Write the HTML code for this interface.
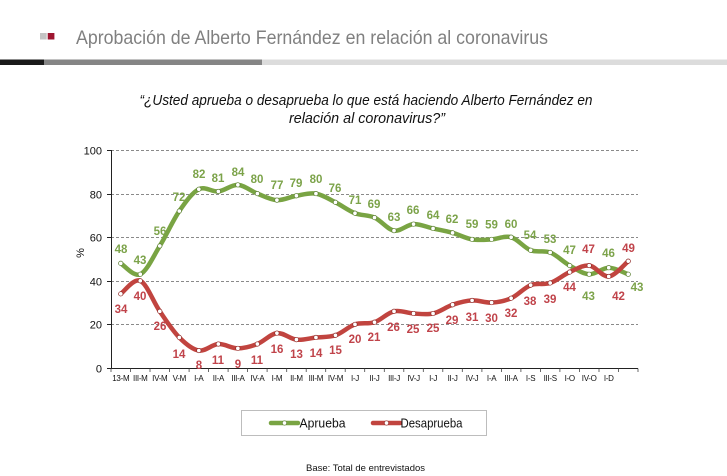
<!DOCTYPE html>
<html>
<head>
<meta charset="utf-8">
<style>
html,body{margin:0;padding:0;background:#fff;}
body{width:727px;height:476px;overflow:hidden;}
svg{display:block;font-family:"Liberation Sans",sans-serif;}
</style>
</head>
<body>
<svg width="727" height="476" viewBox="0 0 727 476" xmlns="http://www.w3.org/2000/svg">
<!-- header -->
<rect x="40" y="33" width="6.7" height="6.5" fill="#c4c4c4"/>
<rect x="47.7" y="33" width="6.7" height="6.5" fill="#9e1530"/>
<text x="76" y="44" font-size="19.5" fill="#808080" textLength="472" lengthAdjust="spacingAndGlyphs">Aprobación de Alberto Fernández en relación al coronavirus</text>
<rect x="0" y="59.5" width="44" height="5.5" fill="#1a1a1a"/>
<rect x="44" y="59.5" width="218" height="5.5" fill="#858585"/>
<rect x="262" y="59.5" width="465" height="5.5" fill="#dcdcdc"/>

<!-- question -->
<text x="366" y="105" font-size="14.5" font-style="italic" fill="#111" text-anchor="middle" textLength="453" lengthAdjust="spacingAndGlyphs">“¿Usted aprueba o desaprueba lo que está haciendo Alberto Fernández en</text>
<text x="367" y="123" font-size="14.5" font-style="italic" fill="#111" text-anchor="middle" textLength="156" lengthAdjust="spacingAndGlyphs">relación al coronavirus?”</text>

<!-- grid -->
<g stroke="#8a8a8a" stroke-width="1" stroke-dasharray="3,2">
<line x1="111" y1="150.5" x2="638" y2="150.5"/>
<line x1="111" y1="194.5" x2="638" y2="194.5"/>
<line x1="111" y1="237.5" x2="638" y2="237.5"/>
<line x1="111" y1="281.5" x2="638" y2="281.5"/>
<line x1="111" y1="324.5" x2="638" y2="324.5"/>
</g>
<!-- axes -->
<g stroke="#222" stroke-width="1">
<line x1="111.5" y1="150" x2="111.5" y2="368.5"/>
<line x1="111" y1="368.5" x2="638" y2="368.5"/>
<line x1="107" y1="150.5" x2="111" y2="150.5"/>
<line x1="107" y1="194.5" x2="111" y2="194.5"/>
<line x1="107" y1="237.5" x2="111" y2="237.5"/>
<line x1="107" y1="281.5" x2="111" y2="281.5"/>
<line x1="107" y1="324.5" x2="111" y2="324.5"/>
<line x1="107" y1="368.5" x2="111" y2="368.5"/>
</g>
<g id="xticks" stroke="#444" stroke-width="0.8"></g>

<!-- y labels -->
<g font-size="11" fill="#111" text-anchor="end">
<text x="102" y="154.5">100</text>
<text x="102" y="198.5">80</text>
<text x="102" y="241.5">60</text>
<text x="102" y="285.5">40</text>
<text x="102" y="328.5">20</text>
<text x="102" y="372.5">0</text>
</g>
<text transform="translate(84,253) rotate(-90)" font-size="11" fill="#111" text-anchor="middle">%</text>

<!-- x labels -->
<g font-size="8" fill="#111" text-anchor="middle" letter-spacing="-0.3">
<text x="120.8" y="381">13-M</text>
<text x="140.3" y="381">III-M</text>
<text x="159.8" y="381">IV-M</text>
<text x="179.3" y="381">V-M</text>
<text x="198.8" y="381">I-A</text>
<text x="218.4" y="381">II-A</text>
<text x="237.9" y="381">III-A</text>
<text x="257.4" y="381">IV-A</text>
<text x="276.9" y="381">I-M</text>
<text x="296.4" y="381">II-M</text>
<text x="315.9" y="381">III-M</text>
<text x="335.5" y="381">IV-M</text>
<text x="355.0" y="381">I-J</text>
<text x="374.5" y="381">II-J</text>
<text x="394.0" y="381">III-J</text>
<text x="413.5" y="381">IV-J</text>
<text x="433.1" y="381">I-J</text>
<text x="452.6" y="381">II-J</text>
<text x="472.1" y="381">IV-J</text>
<text x="491.6" y="381">I-A</text>
<text x="511.1" y="381">III-A</text>
<text x="530.6" y="381">I-S</text>
<text x="550.2" y="381">III-S</text>
<text x="569.7" y="381">I-O</text>
<text x="589.2" y="381">IV-O</text>
<text x="608.7" y="381">I-D</text>
</g>

<!-- series -->
<path id="pg" fill="none" stroke="#79a443" stroke-width="4.5" stroke-linejoin="round" stroke-linecap="round"/>
<path id="pr" fill="none" stroke="#c1443f" stroke-width="4.5" stroke-linejoin="round" stroke-linecap="round"/>
<g id="mk"></g>

<!-- green labels -->
<g font-size="11.5" font-weight="bold" fill="#7ca34a" text-anchor="middle">
<text x="121" y="253">48</text>
<text x="140" y="264">43</text>
<text x="160" y="235">56</text>
<text x="179" y="201">72</text>
<text x="199" y="178">82</text>
<text x="218" y="182">81</text>
<text x="238" y="176">84</text>
<text x="257" y="183">80</text>
<text x="277" y="189">77</text>
<text x="296" y="187">79</text>
<text x="316" y="183">80</text>
<text x="335" y="192">76</text>
<text x="355" y="204">71</text>
<text x="374" y="208">69</text>
<text x="394" y="221">63</text>
<text x="413" y="214">66</text>
<text x="433" y="219">64</text>
<text x="452" y="223">62</text>
<text x="472" y="228">59</text>
<text x="491.5" y="228.5">59</text>
<text x="511" y="228">60</text>
<text x="530" y="239">54</text>
<text x="550" y="243">53</text>
<text x="569.5" y="254">47</text>
<text x="588.5" y="300">43</text>
<text x="608.5" y="257">46</text>
<text x="637" y="291">43</text>
</g>
<!-- red labels -->
<g font-size="11.5" font-weight="bold" fill="#c0434a" text-anchor="middle">
<text x="121" y="313">34</text>
<text x="140" y="300">40</text>
<text x="160" y="330">26</text>
<text x="179" y="358">14</text>
<text x="199" y="369">8</text>
<text x="218" y="364">11</text>
<text x="238" y="368">9</text>
<text x="257" y="364">11</text>
<text x="277" y="353">16</text>
<text x="296.5" y="358">13</text>
<text x="316" y="357">14</text>
<text x="335.5" y="354">15</text>
<text x="355" y="343">20</text>
<text x="374" y="341">21</text>
<text x="393.5" y="331">26</text>
<text x="413" y="333">25</text>
<text x="433" y="332">25</text>
<text x="452" y="324">29</text>
<text x="472" y="321">31</text>
<text x="491.5" y="322">30</text>
<text x="511" y="317">32</text>
<text x="530" y="305">38</text>
<text x="550" y="303">39</text>
<text x="569.5" y="291">44</text>
<text x="588.5" y="253">47</text>
<text x="618.5" y="300">42</text>
<text x="628.5" y="252">49</text>
</g>

<!-- legend -->
<rect x="241.5" y="410.5" width="245" height="25" fill="#fff" stroke="#bdbdbd" stroke-width="1"/>
<line x1="271" y1="423" x2="298" y2="423" stroke="#79a443" stroke-width="4.5" stroke-linecap="round"/>
<circle cx="284.5" cy="423" r="2.2" fill="#fff" stroke="#5a7d30" stroke-width="0.7"/>
<text x="299.5" y="427.5" font-size="12.5" fill="#111" textLength="46" lengthAdjust="spacingAndGlyphs">Aprueba</text>
<line x1="373" y1="423" x2="400" y2="423" stroke="#c1443f" stroke-width="4.5" stroke-linecap="round"/>
<circle cx="386.5" cy="423" r="2.2" fill="#fff" stroke="#8e2a27" stroke-width="0.7"/>
<text x="400.5" y="427.5" font-size="12.5" fill="#111" textLength="62" lengthAdjust="spacingAndGlyphs">Desaprueba</text>

<text x="365.5" y="471" font-size="9.5" fill="#111" text-anchor="middle" textLength="119" lengthAdjust="spacingAndGlyphs">Base: Total de entrevistados</text>
</svg>
<script>
(function(){
var g=[48,43,56,72,82,81,84,80,77,79,80,76,71,69,63,66,64,62,59,59,60,54,53,47,43,46,43];
var r=[34,40,26,14,8,11,9,11,16,13,14,15,20,21,26,25,25,29,31,30,32,38,39,44,47,42,49];
var w=527/27;
function X(i){return 111+w*(i+0.5);}
function Y(v){return 368-2.18*v;}
function path(d){
  var p=d.map(function(v,i){return [X(i),Y(v)];});
  var s="M"+p[0][0].toFixed(2)+","+p[0][1].toFixed(2);
  for(var i=0;i<p.length-1;i++){
    var p0=p[i>0?i-1:i],p1=p[i],p2=p[i+1],p3=p[i+2<p.length?i+2:i+1];
    var c1x=p1[0]+(p2[0]-p0[0])/6,c1y=p1[1]+(p2[1]-p0[1])/6;
    var c2x=p2[0]-(p3[0]-p1[0])/6,c2y=p2[1]-(p3[1]-p1[1])/6;
    s+=" C"+c1x.toFixed(2)+","+c1y.toFixed(2)+" "+c2x.toFixed(2)+","+c2y.toFixed(2)+" "+p2[0].toFixed(2)+","+p2[1].toFixed(2);
  }
  return s;
}
document.getElementById("pg").setAttribute("d",path(g));
document.getElementById("pr").setAttribute("d",path(r));
var ns="http://www.w3.org/2000/svg";
var mk=document.getElementById("mk");
function dots(d,col){
  d.forEach(function(v,i){
    var c=document.createElementNS(ns,"circle");
    c.setAttribute("cx",X(i));c.setAttribute("cy",Y(v));c.setAttribute("r","2.2");
    c.setAttribute("fill","#fff");c.setAttribute("stroke",col);c.setAttribute("stroke-width","0.7");
    mk.appendChild(c);
  });
}
dots(g,"#5a7d30");dots(r,"#8e2a27");
var xt=document.getElementById("xticks");
for(var k=0;k<=27;k++){
  var l=document.createElementNS(ns,"line");
  var x=(111+w*k).toFixed(1);
  l.setAttribute("x1",x);l.setAttribute("x2",x);l.setAttribute("y1","368.5");l.setAttribute("y2","372");
  xt.appendChild(l);
}
})();
</script>
</body>
</html>
